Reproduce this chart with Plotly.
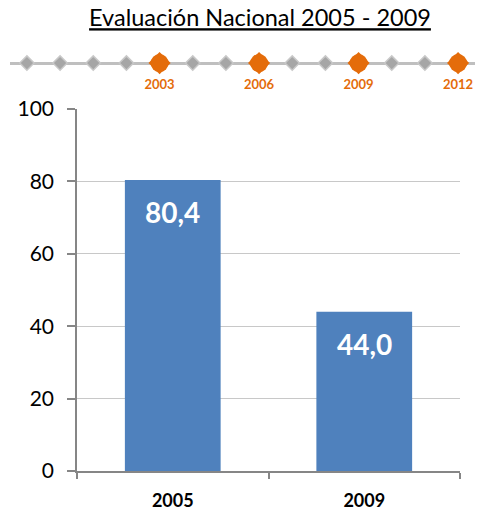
import plotly.graph_objects as go

categories = ["2005", "2009"]
values = [80.4, 44.0]
timeline_years = list(range(1999, 2013))
highlight_years = [2003, 2006, 2009, 2012]

FONT = "Lato"
ORANGE = "#E46C0A"
fig = go.Figure()

fig.add_trace(go.Bar(
    x=categories, y=values, marker=dict(color="#4F81BD", line=dict(width=0)),
    xaxis="x", yaxis="y", showlegend=False, hoverinfo="skip"))

for i, v in enumerate(values):
    fig.add_annotation(x=i, y=v, xref="x", yref="y", yshift=-32,
                       text="<b>" + f"{v:.1f}".replace(".", ",") + "</b>",
                       showarrow=False, font=dict(family=FONT, size=28, color="white"))

gray_years = [y for y in timeline_years if y not in highlight_years]
fig.add_trace(go.Scatter(
    x=gray_years, y=[0] * len(gray_years), mode="markers", xaxis="x2", yaxis="y2",
    marker=dict(symbol="diamond", size=11, color="#A6A6A6", line=dict(color="#C8C8C8", width=1.5)),
    showlegend=False, hoverinfo="skip", cliponaxis=False))
fig.add_trace(go.Scatter(
    x=highlight_years, y=[0] * len(highlight_years), mode="markers", xaxis="x2", yaxis="y2",
    marker=dict(symbol="diamond", size=17, color=ORANGE, line=dict(width=0)),
    showlegend=False, hoverinfo="skip", cliponaxis=False))
fig.add_trace(go.Scatter(
    x=highlight_years, y=[0] * len(highlight_years), mode="markers", xaxis="x2", yaxis="y2",
    marker=dict(symbol="circle", size=18, color=ORANGE, line=dict(width=0)),
    showlegend=False, hoverinfo="skip", cliponaxis=False))
fig.add_trace(go.Scatter(
    x=highlight_years, y=[0] * len(highlight_years), mode="markers+text", xaxis="x2", yaxis="y2",
    marker=dict(symbol="circle", size=24, color="rgba(0,0,0,0)", line=dict(width=0)),
    text=["<b>%d</b>" % y for y in highlight_years], textposition="bottom center",
    textfont=dict(family=FONT, size=13, color=ORANGE),
    showlegend=False, hoverinfo="skip", cliponaxis=False))

fig.update_layout(
    width=478, height=512,
    margin=dict(l=10, r=3, t=30, b=41, autoexpand=False),
    paper_bgcolor="white", plot_bgcolor="white",
    bargap=0.5,
    title=dict(text="<u>Evaluación Nacional 2005 - 2009</u>", x=260 / 478, xanchor="center",
               y=1 - 18 / 512, yanchor="middle", font=dict(family=FONT, size=23.5, color="black")),
    xaxis=dict(domain=[67 / 465, 450 / 465], anchor="y", type="category", range=[-0.5, 1.5],
               showline=True, linecolor="#868686", linewidth=1.5,
               ticks="outside", tickson="boundaries", ticklen=6, tickcolor="#868686", tickwidth=1.5,
               tickfont=dict(family=FONT, size=18, color="black"), ticklabelstandoff=13,
               tickprefix="<b>", ticksuffix="</b>", tickangle=0, automargin=False),
    yaxis=dict(domain=[0, 362 / 441], anchor="x", range=[0, 100], dtick=20,
               showline=True, linecolor="#868686", linewidth=1.5,
               ticks="outside", ticklen=8, tickcolor="#868686", tickwidth=1.5,
               showgrid=True, gridcolor="#C8C8C8", gridwidth=1, zeroline=False,
               tickfont=dict(family=FONT, size=21, color="black"), ticklabelstandoff=9,
               automargin=False),
    xaxis2=dict(domain=[0, 1], anchor="y2", range=[1998.49, 2012.51], visible=False),
    yaxis2=dict(domain=[0.85, 1.0], anchor="x2", range=[-1, 1], showgrid=False,
                zeroline=True, zerolinecolor="#BFBFBF", zerolinewidth=3,
                showticklabels=False, showline=False, ticks="", automargin=False),
)

fig.write_html("out.html", config={"displayModeBar": False},
               post_script="document.body.style.margin='0';document.body.style.overflow='hidden';")
